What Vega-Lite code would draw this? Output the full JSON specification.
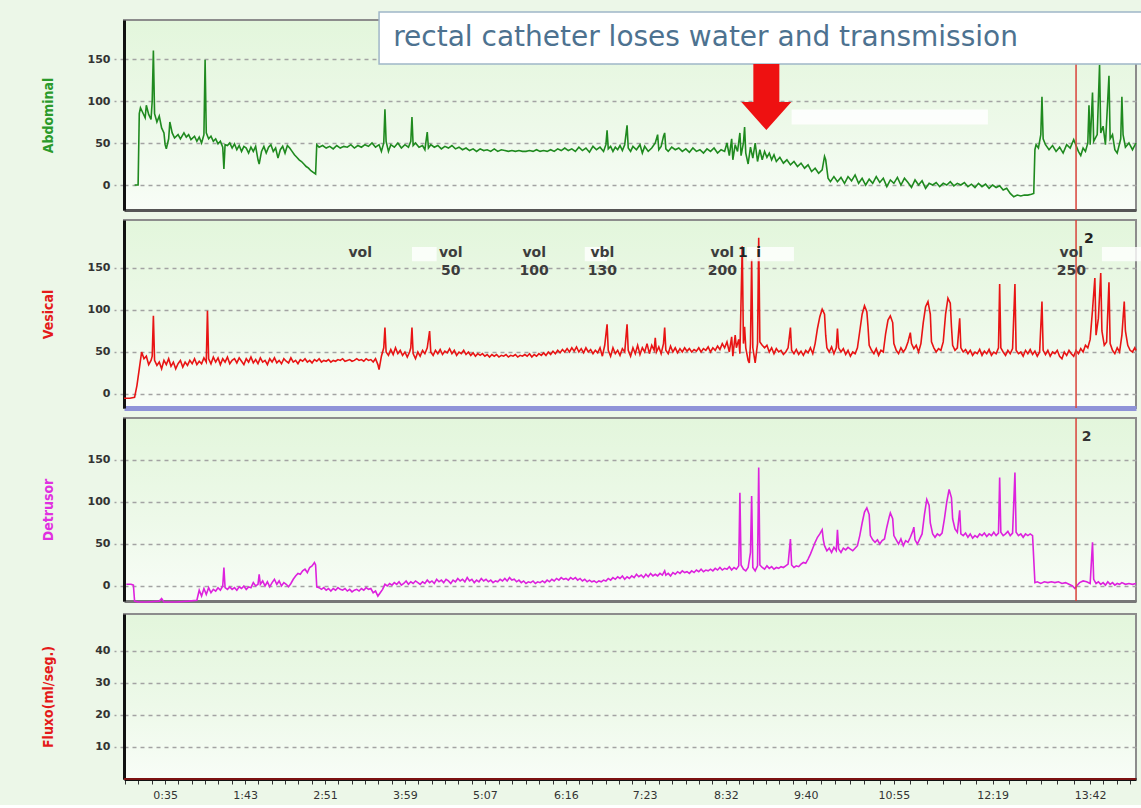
{
"$schema": "https://vega.github.io/schema/vega-lite/v6.json",
"background": "#ecf7e8",
"padding": {"left": 40, "top": 10, "right": 0, "bottom": 4},
"spacing": 6,
"config": {
 "view": {"fill": {"gradient": "linear", "x1": 0, "y1": 0, "x2": 0, "y2": 1, "stops": [{"offset": 0, "color": "#e3f6dc"}, {"offset": 0.55, "color": "#edf9e9"}, {"offset": 1, "color": "#f8fdf7"}]}, "stroke": "#8c8c8c", "strokeWidth": 2},
 "axisX": {"grid": false},
 "axisY": {"grid": true, "gridDash": [4, 4], "gridColor": "#a3a3a3", "gridWidth": 1.5, "tickDash": [4, 4], "tickColor": "#a3a3a3", "tickSize": 10, "tickWidth": 1.5, "domainColor": "#111111", "domainWidth": 3, "labelFont": "DejaVu Sans", "labelFontSize": 11, "labelFontWeight": "bold", "labelColor": "#333333", "labelPadding": 4, "titleFont": "DejaVu Sans Condensed", "titleFontSize": 14, "titleFontWeight": "bold", "titlePadding": 36, "minExtent": 33, "maxExtent": 33}
},
"datasets": {
 "abd": [{"t":9,"v":0},{"t":12,"v":0},{"t":13,"v":85},{"t":14,"v":92},{"t":16,"v":86},{"t":18,"v":80},{"t":19,"v":95},{"t":21,"v":84},{"t":23,"v":78},{"t":24,"v":100},{"t":25,"v":160},{"t":26,"v":85},{"t":28,"v":75},{"t":30,"v":82},{"t":32,"v":68},{"t":34,"v":62},{"t":35,"v":48},{"t":36,"v":43},{"t":38,"v":55},{"t":39,"v":75},{"t":41,"v":62},{"t":43,"v":56},{"t":46,"v":60},{"t":48,"v":55},{"t":51,"v":62},{"t":53,"v":57},{"t":55,"v":60},{"t":57,"v":54},{"t":60,"v":58},{"t":62,"v":52},{"t":64,"v":57},{"t":66,"v":50},{"t":68,"v":60},{"t":69,"v":149},{"t":70,"v":62},{"t":72,"v":55},{"t":74,"v":58},{"t":76,"v":52},{"t":78,"v":55},{"t":80,"v":49},{"t":82,"v":52},{"t":84,"v":45},{"t":85,"v":19},{"t":86,"v":48},{"t":88,"v":47},{"t":90,"v":50},{"t":92,"v":44},{"t":94,"v":49},{"t":96,"v":42},{"t":98,"v":47},{"t":100,"v":40},{"t":102,"v":46},{"t":104,"v":44},{"t":106,"v":38},{"t":108,"v":45},{"t":110,"v":40},{"t":112,"v":46},{"t":114,"v":30},{"t":115,"v":25},{"t":117,"v":40},{"t":119,"v":46},{"t":121,"v":38},{"t":123,"v":45},{"t":125,"v":48},{"t":127,"v":40},{"t":129,"v":44},{"t":131,"v":32},{"t":133,"v":42},{"t":135,"v":46},{"t":137,"v":38},{"t":139,"v":47},{"t":141,"v":44},{"t":143,"v":40},{"t":145,"v":36},{"t":147,"v":33},{"t":149,"v":30},{"t":151,"v":28},{"t":153,"v":25},{"t":155,"v":22},{"t":157,"v":20},{"t":159,"v":17},{"t":161,"v":15},{"t":163,"v":13},{"t":164,"v":48},{"t":166,"v":45},{"t":169,"v":47},{"t":172,"v":44},{"t":175,"v":46},{"t":178,"v":43},{"t":181,"v":47},{"t":184,"v":44},{"t":187,"v":46},{"t":190,"v":45},{"t":193,"v":48},{"t":196,"v":44},{"t":199,"v":47},{"t":202,"v":45},{"t":205,"v":48},{"t":208,"v":46},{"t":211,"v":50},{"t":214,"v":45},{"t":217,"v":48},{"t":219,"v":40},{"t":221,"v":50},{"t":222,"v":90},{"t":223,"v":52},{"t":225,"v":40},{"t":227,"v":48},{"t":230,"v":45},{"t":233,"v":50},{"t":236,"v":44},{"t":239,"v":48},{"t":242,"v":45},{"t":244,"v":52},{"t":245,"v":81},{"t":246,"v":47},{"t":248,"v":50},{"t":251,"v":45},{"t":254,"v":47},{"t":256,"v":42},{"t":258,"v":63},{"t":259,"v":44},{"t":261,"v":48},{"t":264,"v":45},{"t":267,"v":47},{"t":270,"v":43},{"t":273,"v":46},{"t":276,"v":44},{"t":279,"v":47},{"t":282,"v":43},{"t":285,"v":45},{"t":288,"v":42},{"t":291,"v":44},{"t":294,"v":41},{"t":297,"v":43},{"t":300,"v":40},{"t":303,"v":43},{"t":306,"v":41},{"t":309,"v":42},{"t":312,"v":40},{"t":315,"v":43},{"t":318,"v":40},{"t":321,"v":42},{"t":324,"v":41},{"t":327,"v":40},{"t":330,"v":41},{"t":333,"v":40},{"t":336,"v":41},{"t":339,"v":40},{"t":342,"v":40},{"t":345,"v":41},{"t":348,"v":40},{"t":351,"v":42},{"t":354,"v":40},{"t":357,"v":41},{"t":360,"v":40},{"t":363,"v":42},{"t":366,"v":40},{"t":369,"v":43},{"t":372,"v":41},{"t":375,"v":44},{"t":378,"v":41},{"t":381,"v":43},{"t":384,"v":40},{"t":387,"v":45},{"t":390,"v":41},{"t":393,"v":44},{"t":396,"v":39},{"t":399,"v":46},{"t":402,"v":42},{"t":405,"v":45},{"t":408,"v":40},{"t":410,"v":48},{"t":411,"v":65},{"t":412,"v":43},{"t":414,"v":46},{"t":416,"v":40},{"t":418,"v":45},{"t":420,"v":42},{"t":422,"v":47},{"t":424,"v":41},{"t":426,"v":48},{"t":428,"v":71},{"t":429,"v":44},{"t":431,"v":40},{"t":433,"v":46},{"t":436,"v":42},{"t":439,"v":48},{"t":441,"v":38},{"t":443,"v":46},{"t":446,"v":40},{"t":449,"v":44},{"t":452,"v":50},{"t":454,"v":60},{"t":455,"v":42},{"t":457,"v":46},{"t":459,"v":58},{"t":460,"v":62},{"t":461,"v":43},{"t":463,"v":40},{"t":466,"v":45},{"t":469,"v":42},{"t":472,"v":44},{"t":475,"v":40},{"t":478,"v":43},{"t":481,"v":39},{"t":484,"v":44},{"t":487,"v":40},{"t":490,"v":42},{"t":493,"v":38},{"t":496,"v":43},{"t":499,"v":40},{"t":502,"v":44},{"t":505,"v":38},{"t":508,"v":42},{"t":511,"v":40},{"t":513,"v":50},{"t":515,"v":35},{"t":517,"v":55},{"t":518,"v":30},{"t":520,"v":48},{"t":522,"v":40},{"t":524,"v":62},{"t":525,"v":35},{"t":527,"v":50},{"t":528,"v":69},{"t":529,"v":38},{"t":531,"v":25},{"t":533,"v":45},{"t":535,"v":32},{"t":537,"v":50},{"t":539,"v":28},{"t":541,"v":42},{"t":543,"v":30},{"t":545,"v":40},{"t":547,"v":33},{"t":549,"v":38},{"t":551,"v":30},{"t":553,"v":36},{"t":555,"v":28},{"t":558,"v":33},{"t":561,"v":26},{"t":564,"v":30},{"t":567,"v":24},{"t":570,"v":28},{"t":573,"v":22},{"t":576,"v":26},{"t":579,"v":20},{"t":582,"v":24},{"t":585,"v":16},{"t":588,"v":20},{"t":591,"v":14},{"t":594,"v":18},{"t":596,"v":34},{"t":597,"v":30},{"t":599,"v":8},{"t":601,"v":4},{"t":604,"v":10},{"t":607,"v":4},{"t":610,"v":9},{"t":613,"v":2},{"t":616,"v":10},{"t":619,"v":5},{"t":622,"v":12},{"t":625,"v":2},{"t":628,"v":8},{"t":631,"v":0},{"t":634,"v":7},{"t":637,"v":2},{"t":640,"v":10},{"t":643,"v":3},{"t":646,"v":8},{"t":649,"v":-2},{"t":652,"v":6},{"t":655,"v":2},{"t":658,"v":9},{"t":661,"v":0},{"t":664,"v":8},{"t":667,"v":3},{"t":670,"v":-3},{"t":673,"v":6},{"t":676,"v":0},{"t":679,"v":5},{"t":682,"v":-4},{"t":685,"v":2},{"t":688,"v":0},{"t":691,"v":3},{"t":694,"v":-2},{"t":697,"v":2},{"t":700,"v":0},{"t":703,"v":4},{"t":706,"v":-1},{"t":709,"v":2},{"t":712,"v":0},{"t":715,"v":3},{"t":718,"v":-2},{"t":721,"v":1},{"t":724,"v":-3},{"t":727,"v":2},{"t":730,"v":-2},{"t":733,"v":1},{"t":736,"v":-4},{"t":739,"v":0},{"t":742,"v":-3},{"t":745,"v":-1},{"t":748,"v":-6},{"t":751,"v":-4},{"t":754,"v":-10},{"t":757,"v":-14},{"t":760,"v":-12},{"t":763,"v":-13},{"t":766,"v":-12},{"t":769,"v":-12},{"t":772,"v":-11},{"t":774,"v":-10},{"t":775,"v":42},{"t":776,"v":48},{"t":778,"v":44},{"t":780,"v":60},{"t":781,"v":105},{"t":782,"v":55},{"t":784,"v":48},{"t":787,"v":42},{"t":790,"v":47},{"t":793,"v":40},{"t":796,"v":45},{"t":799,"v":38},{"t":802,"v":48},{"t":805,"v":44},{"t":808,"v":54},{"t":810,"v":47},{"t":812,"v":40},{"t":814,"v":35},{"t":816,"v":44},{"t":818,"v":40},{"t":820,"v":50},{"t":821,"v":95},{"t":822,"v":48},{"t":824,"v":110},{"t":825,"v":52},{"t":828,"v":60},{"t":830,"v":143},{"t":831,"v":62},{"t":833,"v":70},{"t":835,"v":48},{"t":838,"v":130},{"t":839,"v":55},{"t":841,"v":60},{"t":843,"v":42},{"t":845,"v":38},{"t":848,"v":55},{"t":849,"v":105},{"t":850,"v":60},{"t":852,"v":45},{"t":855,"v":50},{"t":858,"v":42},{"t":861,"v":50}],
 "ves": [{"t":0,"v":-5},{"t":5,"v":-5},{"t":9,"v":-4},{"t":11,"v":10},{"t":13,"v":30},{"t":15,"v":50},{"t":17,"v":42},{"t":19,"v":45},{"t":21,"v":35},{"t":23,"v":40},{"t":24,"v":45},{"t":25,"v":93},{"t":26,"v":40},{"t":28,"v":34},{"t":30,"v":38},{"t":32,"v":30},{"t":34,"v":40},{"t":36,"v":35},{"t":38,"v":42},{"t":40,"v":33},{"t":42,"v":38},{"t":44,"v":30},{"t":46,"v":36},{"t":48,"v":40},{"t":50,"v":32},{"t":52,"v":38},{"t":54,"v":34},{"t":56,"v":40},{"t":58,"v":36},{"t":60,"v":42},{"t":62,"v":35},{"t":64,"v":39},{"t":66,"v":36},{"t":68,"v":43},{"t":70,"v":38},{"t":71,"v":99},{"t":72,"v":42},{"t":74,"v":36},{"t":76,"v":44},{"t":78,"v":38},{"t":80,"v":43},{"t":82,"v":35},{"t":84,"v":42},{"t":86,"v":38},{"t":88,"v":44},{"t":90,"v":36},{"t":92,"v":40},{"t":94,"v":42},{"t":96,"v":37},{"t":98,"v":43},{"t":100,"v":39},{"t":102,"v":35},{"t":104,"v":42},{"t":106,"v":38},{"t":108,"v":44},{"t":110,"v":37},{"t":112,"v":41},{"t":114,"v":36},{"t":116,"v":43},{"t":118,"v":38},{"t":120,"v":40},{"t":122,"v":35},{"t":124,"v":42},{"t":126,"v":38},{"t":128,"v":43},{"t":130,"v":37},{"t":132,"v":40},{"t":134,"v":36},{"t":136,"v":42},{"t":138,"v":39},{"t":140,"v":37},{"t":142,"v":43},{"t":144,"v":38},{"t":146,"v":40},{"t":148,"v":36},{"t":150,"v":41},{"t":152,"v":39},{"t":154,"v":42},{"t":156,"v":38},{"t":158,"v":40},{"t":160,"v":37},{"t":162,"v":41},{"t":164,"v":39},{"t":166,"v":42},{"t":168,"v":38},{"t":170,"v":40},{"t":172,"v":39},{"t":174,"v":41},{"t":176,"v":38},{"t":178,"v":40},{"t":180,"v":39},{"t":182,"v":41},{"t":184,"v":40},{"t":186,"v":42},{"t":188,"v":39},{"t":190,"v":40},{"t":192,"v":41},{"t":194,"v":39},{"t":196,"v":40},{"t":198,"v":42},{"t":200,"v":40},{"t":202,"v":41},{"t":204,"v":39},{"t":206,"v":42},{"t":208,"v":40},{"t":210,"v":41},{"t":212,"v":38},{"t":214,"v":42},{"t":216,"v":35},{"t":217,"v":29},{"t":219,"v":45},{"t":221,"v":55},{"t":222,"v":79},{"t":223,"v":50},{"t":225,"v":46},{"t":227,"v":53},{"t":229,"v":47},{"t":231,"v":55},{"t":233,"v":48},{"t":235,"v":52},{"t":237,"v":46},{"t":239,"v":50},{"t":241,"v":44},{"t":243,"v":50},{"t":244,"v":55},{"t":245,"v":79},{"t":246,"v":48},{"t":248,"v":42},{"t":250,"v":50},{"t":252,"v":45},{"t":254,"v":52},{"t":256,"v":48},{"t":258,"v":55},{"t":260,"v":75},{"t":261,"v":50},{"t":263,"v":46},{"t":265,"v":52},{"t":267,"v":48},{"t":269,"v":53},{"t":271,"v":47},{"t":273,"v":51},{"t":275,"v":49},{"t":277,"v":54},{"t":279,"v":48},{"t":281,"v":52},{"t":283,"v":46},{"t":285,"v":50},{"t":287,"v":48},{"t":289,"v":52},{"t":291,"v":47},{"t":293,"v":50},{"t":295,"v":46},{"t":297,"v":49},{"t":299,"v":45},{"t":301,"v":48},{"t":303,"v":46},{"t":305,"v":48},{"t":307,"v":45},{"t":309,"v":47},{"t":311,"v":44},{"t":313,"v":47},{"t":315,"v":45},{"t":317,"v":47},{"t":319,"v":44},{"t":321,"v":46},{"t":323,"v":45},{"t":325,"v":47},{"t":327,"v":44},{"t":329,"v":46},{"t":331,"v":45},{"t":333,"v":47},{"t":335,"v":44},{"t":337,"v":46},{"t":339,"v":45},{"t":341,"v":47},{"t":343,"v":45},{"t":345,"v":48},{"t":347,"v":44},{"t":349,"v":47},{"t":351,"v":45},{"t":353,"v":48},{"t":355,"v":46},{"t":357,"v":49},{"t":359,"v":46},{"t":361,"v":50},{"t":363,"v":47},{"t":365,"v":51},{"t":367,"v":48},{"t":369,"v":52},{"t":371,"v":49},{"t":373,"v":53},{"t":375,"v":50},{"t":377,"v":54},{"t":379,"v":50},{"t":381,"v":55},{"t":383,"v":51},{"t":385,"v":56},{"t":387,"v":50},{"t":389,"v":54},{"t":391,"v":49},{"t":393,"v":55},{"t":395,"v":50},{"t":397,"v":53},{"t":399,"v":48},{"t":401,"v":52},{"t":403,"v":49},{"t":405,"v":55},{"t":407,"v":45},{"t":409,"v":58},{"t":411,"v":83},{"t":412,"v":52},{"t":414,"v":45},{"t":416,"v":55},{"t":418,"v":48},{"t":420,"v":52},{"t":422,"v":46},{"t":424,"v":54},{"t":426,"v":50},{"t":428,"v":83},{"t":429,"v":52},{"t":431,"v":45},{"t":433,"v":55},{"t":435,"v":48},{"t":437,"v":58},{"t":439,"v":47},{"t":441,"v":55},{"t":443,"v":50},{"t":445,"v":60},{"t":447,"v":48},{"t":449,"v":58},{"t":451,"v":52},{"t":452,"v":67},{"t":453,"v":50},{"t":455,"v":56},{"t":457,"v":48},{"t":459,"v":60},{"t":460,"v":79},{"t":461,"v":52},{"t":463,"v":48},{"t":465,"v":57},{"t":467,"v":50},{"t":469,"v":55},{"t":471,"v":49},{"t":473,"v":54},{"t":475,"v":50},{"t":477,"v":55},{"t":479,"v":51},{"t":481,"v":54},{"t":483,"v":50},{"t":485,"v":53},{"t":487,"v":51},{"t":489,"v":55},{"t":491,"v":50},{"t":493,"v":54},{"t":495,"v":52},{"t":497,"v":56},{"t":499,"v":50},{"t":501,"v":55},{"t":503,"v":52},{"t":505,"v":57},{"t":507,"v":53},{"t":509,"v":60},{"t":511,"v":55},{"t":513,"v":62},{"t":515,"v":50},{"t":517,"v":68},{"t":518,"v":45},{"t":520,"v":70},{"t":521,"v":55},{"t":523,"v":65},{"t":524,"v":48},{"t":526,"v":176},{"t":527,"v":60},{"t":528,"v":80},{"t":529,"v":55},{"t":531,"v":40},{"t":532,"v":37},{"t":533,"v":60},{"t":534,"v":160},{"t":535,"v":55},{"t":537,"v":37},{"t":539,"v":60},{"t":540,"v":186},{"t":541,"v":62},{"t":543,"v":58},{"t":545,"v":55},{"t":547,"v":58},{"t":549,"v":50},{"t":551,"v":55},{"t":553,"v":48},{"t":555,"v":54},{"t":557,"v":50},{"t":559,"v":52},{"t":561,"v":47},{"t":563,"v":50},{"t":565,"v":55},{"t":567,"v":79},{"t":568,"v":52},{"t":570,"v":48},{"t":572,"v":53},{"t":574,"v":47},{"t":576,"v":51},{"t":578,"v":46},{"t":580,"v":52},{"t":582,"v":49},{"t":584,"v":55},{"t":586,"v":48},{"t":588,"v":60},{"t":590,"v":78},{"t":592,"v":92},{"t":594,"v":101},{"t":596,"v":95},{"t":597,"v":70},{"t":598,"v":55},{"t":600,"v":50},{"t":602,"v":56},{"t":604,"v":48},{"t":606,"v":55},{"t":607,"v":78},{"t":608,"v":55},{"t":610,"v":50},{"t":612,"v":54},{"t":614,"v":47},{"t":616,"v":52},{"t":618,"v":45},{"t":620,"v":50},{"t":622,"v":48},{"t":624,"v":55},{"t":626,"v":75},{"t":628,"v":95},{"t":630,"v":105},{"t":632,"v":98},{"t":633,"v":80},{"t":634,"v":58},{"t":636,"v":52},{"t":638,"v":48},{"t":640,"v":54},{"t":642,"v":46},{"t":644,"v":52},{"t":646,"v":50},{"t":648,"v":72},{"t":650,"v":88},{"t":652,"v":93},{"t":654,"v":85},{"t":655,"v":60},{"t":657,"v":52},{"t":659,"v":48},{"t":661,"v":55},{"t":663,"v":50},{"t":665,"v":54},{"t":667,"v":62},{"t":669,"v":73},{"t":670,"v":60},{"t":672,"v":54},{"t":674,"v":58},{"t":676,"v":50},{"t":678,"v":60},{"t":680,"v":85},{"t":682,"v":104},{"t":684,"v":110},{"t":686,"v":95},{"t":687,"v":62},{"t":689,"v":55},{"t":691,"v":50},{"t":693,"v":54},{"t":695,"v":52},{"t":697,"v":62},{"t":699,"v":95},{"t":701,"v":114},{"t":703,"v":108},{"t":704,"v":80},{"t":705,"v":58},{"t":707,"v":52},{"t":709,"v":55},{"t":711,"v":90},{"t":712,"v":55},{"t":714,"v":50},{"t":716,"v":53},{"t":718,"v":48},{"t":720,"v":52},{"t":722,"v":46},{"t":724,"v":50},{"t":726,"v":48},{"t":728,"v":53},{"t":730,"v":46},{"t":732,"v":51},{"t":734,"v":48},{"t":736,"v":53},{"t":738,"v":46},{"t":740,"v":50},{"t":742,"v":48},{"t":744,"v":55},{"t":745,"v":131},{"t":746,"v":55},{"t":748,"v":50},{"t":750,"v":46},{"t":752,"v":52},{"t":754,"v":48},{"t":756,"v":54},{"t":758,"v":131},{"t":759,"v":52},{"t":761,"v":48},{"t":763,"v":50},{"t":765,"v":45},{"t":767,"v":52},{"t":769,"v":48},{"t":771,"v":53},{"t":773,"v":47},{"t":775,"v":51},{"t":777,"v":45},{"t":779,"v":50},{"t":781,"v":110},{"t":782,"v":52},{"t":784,"v":47},{"t":786,"v":52},{"t":788,"v":45},{"t":790,"v":50},{"t":792,"v":48},{"t":794,"v":52},{"t":796,"v":45},{"t":798,"v":42},{"t":800,"v":50},{"t":802,"v":46},{"t":804,"v":52},{"t":806,"v":48},{"t":808,"v":45},{"t":810,"v":52},{"t":812,"v":48},{"t":814,"v":54},{"t":816,"v":50},{"t":818,"v":58},{"t":820,"v":55},{"t":822,"v":65},{"t":824,"v":100},{"t":826,"v":138},{"t":827,"v":70},{"t":829,"v":90},{"t":831,"v":144},{"t":832,"v":75},{"t":834,"v":58},{"t":836,"v":62},{"t":838,"v":133},{"t":839,"v":60},{"t":841,"v":52},{"t":843,"v":48},{"t":845,"v":55},{"t":847,"v":50},{"t":849,"v":70},{"t":851,"v":110},{"t":852,"v":75},{"t":854,"v":58},{"t":856,"v":52},{"t":858,"v":50},{"t":860,"v":55},{"t":861,"v":52}],
 "det": [{"t":2,"v":2},{"t":6,"v":2},{"t":8,"v":1},{"t":9,"v":-18},{"t":12,"v":-19},{"t":20,"v":-19},{"t":30,"v":-18},{"t":32,"v":-15},{"t":34,"v":-19},{"t":45,"v":-19},{"t":55,"v":-18},{"t":62,"v":-17},{"t":64,"v":-5},{"t":66,"v":-12},{"t":68,"v":-3},{"t":70,"v":-10},{"t":72,"v":-2},{"t":74,"v":-8},{"t":76,"v":-4},{"t":78,"v":-6},{"t":80,"v":-2},{"t":82,"v":-5},{"t":84,"v":0},{"t":85,"v":22},{"t":86,"v":-2},{"t":88,"v":-4},{"t":90,"v":-1},{"t":92,"v":-4},{"t":94,"v":-2},{"t":96,"v":-5},{"t":98,"v":-1},{"t":100,"v":-3},{"t":102,"v":0},{"t":104,"v":-4},{"t":106,"v":-1},{"t":108,"v":-2},{"t":110,"v":4},{"t":112,"v":0},{"t":114,"v":2},{"t":115,"v":14},{"t":116,"v":2},{"t":118,"v":6},{"t":120,"v":0},{"t":122,"v":5},{"t":124,"v":-1},{"t":126,"v":4},{"t":128,"v":8},{"t":130,"v":2},{"t":132,"v":6},{"t":134,"v":0},{"t":136,"v":4},{"t":138,"v":2},{"t":140,"v":-1},{"t":142,"v":3},{"t":144,"v":8},{"t":146,"v":12},{"t":148,"v":15},{"t":150,"v":14},{"t":152,"v":18},{"t":154,"v":20},{"t":156,"v":16},{"t":158,"v":22},{"t":160,"v":24},{"t":162,"v":28},{"t":163,"v":25},{"t":164,"v":-1},{"t":166,"v":-2},{"t":168,"v":-4},{"t":170,"v":-2},{"t":172,"v":-5},{"t":174,"v":-3},{"t":176,"v":-6},{"t":178,"v":-3},{"t":180,"v":-5},{"t":182,"v":-2},{"t":184,"v":-4},{"t":186,"v":-5},{"t":188,"v":-3},{"t":190,"v":-6},{"t":192,"v":-4},{"t":194,"v":-7},{"t":196,"v":-5},{"t":198,"v":-4},{"t":200,"v":-6},{"t":202,"v":-3},{"t":204,"v":-5},{"t":206,"v":-2},{"t":208,"v":-4},{"t":210,"v":-3},{"t":212,"v":-8},{"t":214,"v":-6},{"t":216,"v":-12},{"t":218,"v":-8},{"t":220,"v":-4},{"t":222,"v":2},{"t":224,"v":0},{"t":226,"v":3},{"t":228,"v":1},{"t":230,"v":4},{"t":232,"v":2},{"t":234,"v":5},{"t":236,"v":1},{"t":238,"v":3},{"t":240,"v":6},{"t":242,"v":2},{"t":244,"v":5},{"t":246,"v":3},{"t":248,"v":6},{"t":250,"v":4},{"t":252,"v":2},{"t":254,"v":5},{"t":256,"v":3},{"t":258,"v":7},{"t":260,"v":4},{"t":262,"v":6},{"t":264,"v":3},{"t":266,"v":8},{"t":268,"v":5},{"t":270,"v":7},{"t":272,"v":4},{"t":274,"v":8},{"t":276,"v":6},{"t":278,"v":3},{"t":280,"v":7},{"t":282,"v":5},{"t":284,"v":9},{"t":286,"v":6},{"t":288,"v":8},{"t":290,"v":5},{"t":292,"v":10},{"t":294,"v":6},{"t":296,"v":8},{"t":298,"v":4},{"t":300,"v":7},{"t":302,"v":5},{"t":304,"v":9},{"t":306,"v":6},{"t":308,"v":8},{"t":310,"v":5},{"t":312,"v":7},{"t":314,"v":4},{"t":316,"v":6},{"t":318,"v":5},{"t":320,"v":8},{"t":322,"v":6},{"t":324,"v":9},{"t":326,"v":6},{"t":328,"v":10},{"t":330,"v":7},{"t":332,"v":8},{"t":334,"v":5},{"t":336,"v":7},{"t":338,"v":4},{"t":340,"v":6},{"t":342,"v":3},{"t":344,"v":5},{"t":346,"v":4},{"t":348,"v":6},{"t":350,"v":3},{"t":352,"v":5},{"t":354,"v":4},{"t":356,"v":6},{"t":358,"v":4},{"t":360,"v":7},{"t":362,"v":5},{"t":364,"v":8},{"t":366,"v":6},{"t":368,"v":9},{"t":370,"v":7},{"t":372,"v":10},{"t":374,"v":8},{"t":376,"v":9},{"t":378,"v":7},{"t":380,"v":10},{"t":382,"v":8},{"t":384,"v":10},{"t":386,"v":7},{"t":388,"v":9},{"t":390,"v":6},{"t":392,"v":8},{"t":394,"v":5},{"t":396,"v":7},{"t":398,"v":5},{"t":400,"v":6},{"t":402,"v":4},{"t":404,"v":6},{"t":406,"v":5},{"t":408,"v":7},{"t":410,"v":6},{"t":412,"v":9},{"t":414,"v":7},{"t":416,"v":10},{"t":418,"v":8},{"t":420,"v":11},{"t":422,"v":9},{"t":424,"v":12},{"t":426,"v":8},{"t":428,"v":11},{"t":430,"v":9},{"t":432,"v":12},{"t":434,"v":10},{"t":436,"v":14},{"t":438,"v":11},{"t":440,"v":13},{"t":442,"v":10},{"t":444,"v":14},{"t":446,"v":11},{"t":448,"v":15},{"t":450,"v":12},{"t":452,"v":14},{"t":454,"v":12},{"t":456,"v":15},{"t":458,"v":13},{"t":460,"v":18},{"t":461,"v":13},{"t":463,"v":15},{"t":465,"v":12},{"t":467,"v":16},{"t":469,"v":14},{"t":471,"v":17},{"t":473,"v":15},{"t":475,"v":18},{"t":477,"v":16},{"t":479,"v":17},{"t":481,"v":15},{"t":483,"v":18},{"t":485,"v":16},{"t":487,"v":19},{"t":489,"v":17},{"t":491,"v":20},{"t":493,"v":17},{"t":495,"v":19},{"t":497,"v":18},{"t":499,"v":20},{"t":501,"v":18},{"t":503,"v":21},{"t":505,"v":19},{"t":507,"v":22},{"t":509,"v":19},{"t":511,"v":21},{"t":513,"v":20},{"t":515,"v":23},{"t":517,"v":19},{"t":519,"v":22},{"t":521,"v":20},{"t":523,"v":24},{"t":524,"v":111},{"t":525,"v":25},{"t":527,"v":20},{"t":529,"v":18},{"t":531,"v":22},{"t":533,"v":40},{"t":534,"v":107},{"t":535,"v":22},{"t":537,"v":18},{"t":539,"v":24},{"t":540,"v":141},{"t":541,"v":25},{"t":543,"v":22},{"t":545,"v":20},{"t":547,"v":24},{"t":549,"v":21},{"t":551,"v":23},{"t":553,"v":20},{"t":555,"v":22},{"t":557,"v":21},{"t":559,"v":23},{"t":561,"v":22},{"t":563,"v":24},{"t":565,"v":26},{"t":567,"v":56},{"t":568,"v":25},{"t":570,"v":22},{"t":572,"v":24},{"t":574,"v":23},{"t":576,"v":26},{"t":578,"v":28},{"t":580,"v":27},{"t":582,"v":32},{"t":584,"v":38},{"t":586,"v":45},{"t":588,"v":52},{"t":590,"v":58},{"t":592,"v":62},{"t":594,"v":67},{"t":595,"v":55},{"t":596,"v":48},{"t":598,"v":42},{"t":600,"v":45},{"t":602,"v":40},{"t":604,"v":46},{"t":606,"v":42},{"t":607,"v":67},{"t":608,"v":44},{"t":610,"v":40},{"t":612,"v":45},{"t":614,"v":43},{"t":616,"v":46},{"t":618,"v":44},{"t":620,"v":42},{"t":622,"v":45},{"t":624,"v":48},{"t":626,"v":60},{"t":628,"v":75},{"t":630,"v":88},{"t":632,"v":93},{"t":634,"v":85},{"t":635,"v":60},{"t":637,"v":55},{"t":639,"v":52},{"t":641,"v":55},{"t":643,"v":50},{"t":645,"v":54},{"t":647,"v":56},{"t":649,"v":70},{"t":651,"v":82},{"t":652,"v":87},{"t":654,"v":80},{"t":655,"v":60},{"t":657,"v":55},{"t":659,"v":50},{"t":661,"v":56},{"t":663,"v":48},{"t":665,"v":54},{"t":667,"v":52},{"t":669,"v":58},{"t":671,"v":65},{"t":672,"v":70},{"t":673,"v":55},{"t":675,"v":50},{"t":677,"v":56},{"t":679,"v":62},{"t":681,"v":85},{"t":683,"v":103},{"t":685,"v":96},{"t":686,"v":75},{"t":688,"v":62},{"t":690,"v":58},{"t":692,"v":62},{"t":694,"v":60},{"t":696,"v":63},{"t":698,"v":80},{"t":700,"v":100},{"t":702,"v":115},{"t":704,"v":105},{"t":705,"v":80},{"t":707,"v":68},{"t":709,"v":64},{"t":711,"v":90},{"t":712,"v":62},{"t":714,"v":60},{"t":716,"v":63},{"t":718,"v":58},{"t":720,"v":62},{"t":722,"v":57},{"t":724,"v":60},{"t":726,"v":58},{"t":728,"v":62},{"t":730,"v":60},{"t":732,"v":63},{"t":734,"v":59},{"t":736,"v":62},{"t":738,"v":60},{"t":740,"v":64},{"t":742,"v":60},{"t":744,"v":63},{"t":745,"v":129},{"t":746,"v":64},{"t":748,"v":60},{"t":750,"v":62},{"t":752,"v":65},{"t":754,"v":60},{"t":756,"v":63},{"t":758,"v":135},{"t":759,"v":64},{"t":761,"v":60},{"t":763,"v":62},{"t":765,"v":58},{"t":767,"v":62},{"t":769,"v":60},{"t":771,"v":62},{"t":773,"v":60},{"t":775,"v":4},{"t":777,"v":5},{"t":780,"v":3},{"t":783,"v":5},{"t":786,"v":4},{"t":789,"v":5},{"t":792,"v":4},{"t":795,"v":5},{"t":798,"v":3},{"t":801,"v":4},{"t":804,"v":2},{"t":807,"v":0},{"t":809,"v":-3},{"t":811,"v":1},{"t":813,"v":4},{"t":816,"v":6},{"t":819,"v":5},{"t":822,"v":3},{"t":824,"v":52},{"t":825,"v":8},{"t":827,"v":3},{"t":829,"v":5},{"t":831,"v":2},{"t":833,"v":4},{"t":835,"v":1},{"t":837,"v":5},{"t":839,"v":2},{"t":841,"v":4},{"t":843,"v":1},{"t":845,"v":3},{"t":847,"v":2},{"t":849,"v":4},{"t":852,"v":2},{"t":855,"v":3},{"t":858,"v":2},{"t":861,"v":3}],
 "flux": [{"t":0,"v":0},{"t":861,"v":0}],
 "event": [{"t":810}],
 "box": [{"t":217,"t2":875,"v":144,"v2":206}],
 "ann": [{"t":229,"v":175,"txt":"rectal catheter loses water and transmission"}],
 "arrow": [{"t":546.5,"v":104.7}],
 "white1": [{"t":568,"t2":735,"v":72,"v2":90}],
 "white2": [{"t":245,"t2":266,"v":158,"v2":175},{"t":392,"t2":411,"v":158,"v2":175},{"t":530,"t2":570,"v":158,"v2":175},{"t":832,"t2":866,"v":158,"v2":175}],
 "marks2": [{"t":201,"v":168,"txt":"vol"},{"t":278,"v":168,"txt":"vol"},{"t":278,"v":146,"txt":"50"},{"t":349,"v":168,"txt":"vol"},{"t":349,"v":146,"txt":"100"},{"t":407,"v":168,"txt":"vbl"},{"t":407,"v":146,"txt":"130"},{"t":509,"v":168,"txt":"vol"},{"t":509,"v":146,"txt":"200"},{"t":806,"v":168,"txt":"vol"},{"t":806,"v":146,"txt":"250"}],
 "bold2": [{"t":526.5,"v":168,"txt":"1"},{"t":540,"v":168,"txt":"i"},{"t":821,"v":184,"txt":"2"}],
 "bold3": [{"t":818.9,"v":177.4,"txt":"2"}]
},
"vconcat": [
 {"width": 1012, "height": 190,
  "layer": [
   {"data": {"name": "abd"}, "mark": {"type": "line", "color": "#1f8a1f", "strokeWidth": 1.6},
    "encoding": {"x": {"field": "t", "type": "quantitative", "scale": {"domain": [0, 861], "nice": false, "zero": false}, "axis": {"title": null, "labels": false, "ticks": false, "domainColor": "#555555", "domainWidth": 3}},
                 "y": {"field": "v", "type": "quantitative", "scale": {"domain": [-29.76, 196.43], "nice": false, "zero": false}, "axis": {"title": "Abdominal", "titleColor": "#2a9a2a", "values": [0, 50, 100, 150]}}}},
   {"data": {"name": "event"}, "mark": {"type": "rule", "color": "#d9423a", "strokeWidth": 1.5}, "encoding": {"x": {"field": "t", "type": "quantitative"}}},
   {"data": {"name": "white1"}, "mark": {"type": "rect", "color": "#ffffff", "opacity": 0.85}, "encoding": {"x": {"field": "t", "type": "quantitative"}, "x2": {"field": "t2"}, "y": {"field": "v", "type": "quantitative"}, "y2": {"field": "v2"}}},
   {"data": {"name": "box"}, "mark": {"type": "rect", "fill": "#ffffff", "stroke": "#9fb6c8", "strokeWidth": 1.5}, "encoding": {"x": {"field": "t", "type": "quantitative"}, "x2": {"field": "t2"}, "y": {"field": "v", "type": "quantitative"}, "y2": {"field": "v2"}}},
   {"data": {"name": "ann"}, "mark": {"type": "text", "align": "left", "baseline": "middle", "font": "DejaVu Sans", "fontSize": 28, "color": "#4d7290"}, "encoding": {"x": {"field": "t", "type": "quantitative"}, "y": {"field": "v", "type": "quantitative"}, "text": {"field": "txt"}}},
   {"data": {"name": "arrow"}, "mark": {"type": "point", "shape": "M-0.52,-1.32L0.52,-1.32L0.52,0.2L1,0.2L0,1.32L-1,0.2L-0.52,0.2Z", "size": 2500, "filled": true, "color": "#ee1111", "opacity": 1, "strokeWidth": 0}, "encoding": {"x": {"field": "t", "type": "quantitative"}, "y": {"field": "v", "type": "quantitative"}}}
  ]},
 {"width": 1012, "height": 188,
  "layer": [
   {"data": {"name": "ves"}, "mark": {"type": "line", "color": "#e81414", "strokeWidth": 1.6},
    "encoding": {"x": {"field": "t", "type": "quantitative", "scale": {"domain": [0, 861], "nice": false, "zero": false}, "axis": {"title": null, "labels": false, "ticks": false, "domainColor": "#8f93d8", "domainWidth": 5}},
                 "y": {"field": "v", "type": "quantitative", "scale": {"domain": [-16.67, 207.14], "nice": false, "zero": false}, "axis": {"title": "Vesical", "titleColor": "#e41a1a", "values": [0, 50, 100, 150]}}}},
   {"data": {"name": "event"}, "mark": {"type": "rule", "color": "#d9423a", "strokeWidth": 1.5}, "encoding": {"x": {"field": "t", "type": "quantitative"}}},
   {"data": {"name": "white2"}, "mark": {"type": "rect", "color": "#ffffff", "opacity": 0.8}, "encoding": {"x": {"field": "t", "type": "quantitative"}, "x2": {"field": "t2"}, "y": {"field": "v", "type": "quantitative"}, "y2": {"field": "v2"}}},
   {"data": {"name": "marks2"}, "mark": {"type": "text", "align": "center", "baseline": "middle", "font": "DejaVu Sans", "fontSize": 14, "fontWeight": "bold", "color": "#3c3c3c"}, "encoding": {"x": {"field": "t", "type": "quantitative"}, "y": {"field": "v", "type": "quantitative"}, "text": {"field": "txt"}}},
   {"data": {"name": "bold2"}, "mark": {"type": "text", "align": "center", "baseline": "middle", "font": "DejaVu Sans", "fontSize": 14, "fontWeight": "bold", "color": "#222222"}, "encoding": {"x": {"field": "t", "type": "quantitative"}, "y": {"field": "v", "type": "quantitative"}, "text": {"field": "txt"}}}
  ]},
 {"width": 1012, "height": 183,
  "layer": [
   {"data": {"name": "det"}, "mark": {"type": "line", "color": "#dd22dd", "strokeWidth": 1.6},
    "encoding": {"x": {"field": "t", "type": "quantitative", "scale": {"domain": [0, 861], "nice": false, "zero": false}, "axis": {"title": null, "labels": false, "ticks": false, "domainColor": "#777777", "domainWidth": 3}},
                 "y": {"field": "v", "type": "quantitative", "scale": {"domain": [-17.86, 200], "nice": false, "zero": false}, "axis": {"title": "Detrusor", "titleColor": "#e030e0", "values": [0, 50, 100, 150]}}}},
   {"data": {"name": "event"}, "mark": {"type": "rule", "color": "#d9423a", "strokeWidth": 1.5}, "encoding": {"x": {"field": "t", "type": "quantitative"}}},
   {"data": {"name": "bold3"}, "mark": {"type": "text", "align": "center", "baseline": "middle", "font": "DejaVu Sans", "fontSize": 14, "fontWeight": "bold", "color": "#333333"}, "encoding": {"x": {"field": "t", "type": "quantitative"}, "y": {"field": "v", "type": "quantitative"}, "text": {"field": "txt"}}}
  ]},
 {"width": 1012, "height": 165,
  "layer": [
   {"data": {"name": "flux"}, "mark": {"type": "line", "color": "#e81414", "strokeWidth": 1},
    "encoding": {"x": {"field": "t", "type": "quantitative", "scale": {"domain": [0, 861], "nice": false, "zero": false}, "axis": {"title": null, "values": [1,12,24,35,46,58,69,80,92,103,114,126,137,148,160,171,182,194,205,216,228,239,250,262,273,284,296,307,319,330,342,353,365,376,387,398,410,421,432,443,455,466,478,489,500,512,523,535,546,557,569,580,593,605,618,630,643,655,669,683,697,711,725,739,753,767,780,794,808,822,833,845,856], "labelExpr": "indexof([35,103,171,239,307,376,443,512,580,655,739,822], datum.value) >= 0 ? floor(datum.value/60) + ':' + (datum.value % 60 < 10 ? '0' : '') + (datum.value % 60) : ''", "tickSize": 5, "tickColor": "#333333", "domainColor": "#111111", "domainWidth": 3, "labelFont": "DejaVu Sans", "labelFontSize": 11, "labelColor": "#333333", "labelPadding": 5, "labelOverlap": false, "labelFlush": false}},
                 "y": {"field": "v", "type": "quantitative", "scale": {"domain": [0, 51.56], "nice": false, "zero": false}, "axis": {"title": "Fluxo(ml/seg.)", "titleColor": "#e41a1a", "values": [10, 20, 30, 40]}}}}
  ]}
]
}
